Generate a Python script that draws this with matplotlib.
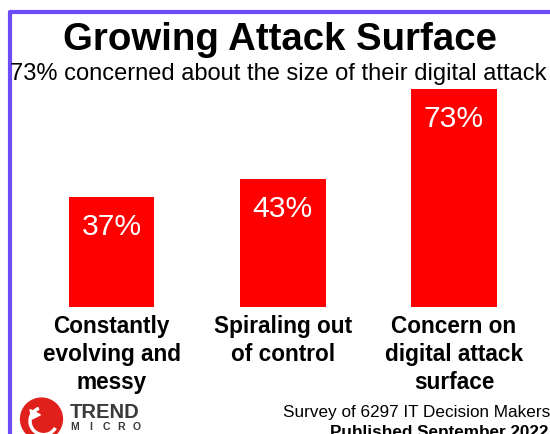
import matplotlib
matplotlib.use("Agg")
import matplotlib.pyplot as plt
from matplotlib.patches import Rectangle, Circle, Arc, Polygon

plt.rcParams['font.family'] = ['Liberation Sans', 'DejaVu Sans']

# données
categories = ["Constantly\nevolving and\nmessy", "Spiraling out\nof control",
              "Concern on\ndigital attack\nsurface"]
values = [37, 43, 73]
value_labels = ["37%", "43%", "73%"]

title = "Growing Attack Surface"
subtitle = "73% concerned about the size of their digital attack"
source = "Survey of 6297 IT Decision Makers"
published = "Published September 2022"

W, H = 550, 434
fig = plt.figure(figsize=(W / 100, H / 100), dpi=100)
fig.patch.set_facecolor("white")


def fx(px):
    return px / W


def fy(py):
    # py compté depuis le haut de l'image
    return 1 - py / H


# cadre violet (haut et gauche seulement visibles)
fig.patches.append(Rectangle((fx(9.5), -0.2), 1.5, 0.2 + fy(12), transform=fig.transFigure,
                             fill=False, edgecolor="#6b4cf6", linewidth=3, joinstyle="round"))

# barres
ax = fig.add_axes([fx(25.9), fy(307), fx(513.7), 238.4 / H])
x = range(len(values))
ax.bar(x, values, width=0.5, color="#ff0000")
ax.set_xlim(-0.5, 2.5)
ax.set_ylim(0, 80)
ax.axis("off")

for i, v in enumerate(values):
    ax.annotate(value_labels[i], xy=(i, v), xytext=(0, -21.5), textcoords="offset points",
                ha="center", va="center", color="white", fontsize=21.6)
    ax.annotate(categories[i], xy=(i, 0), xytext=(0, -6), textcoords="offset points",
                ha="center", va="top", fontsize=16.3, fontweight="bold",
                multialignment="center", linespacing=1.28)

# titres
fig.text(fx(280), fy(50), title, ha="center", va="baseline", fontsize=27.6, fontweight="bold")
fig.text(fx(10), fy(80), subtitle, ha="left", va="baseline", fontsize=17)

# source en bas à droite
fig.text(fx(283), fy(416.5), source, ha="left", va="baseline", fontsize=12.3)
fig.text(fx(330), fy(436.5), published, ha="left", va="baseline", fontsize=12.3, fontweight="bold")

# logo Trend Micro
lax = fig.add_axes([fx(18.5), fy(442), fx(46), 46 / H])
lax.set_xlim(-1.1, 1.1)
lax.set_ylim(-1.1, 1.1)
lax.set_aspect("equal")
lax.axis("off")
lax.add_patch(Circle((0, 0), 1, color="#e0201b"))
lax.add_patch(Arc((0.1, -0.1), 1.3, 1.3, theta1=110, theta2=330, color="white", linewidth=2.5))
lax.add_patch(Polygon([[-0.55, 0.45], [-0.05, 0.2], [-0.45, 0.0]], color="white"))

fig.text(fx(70), fy(418), "TREND", ha="left", va="baseline", fontsize=14.5,
         fontweight="bold", color="#3a3a3a")
for k, letter in enumerate("MICRO"):
    fig.text(fx(75 + k * 15.5), fy(429.5), letter, ha="center", va="baseline", fontsize=7.5,
             fontweight="bold", color="#3a3a3a")

fig.savefig("out.png", dpi=100)
